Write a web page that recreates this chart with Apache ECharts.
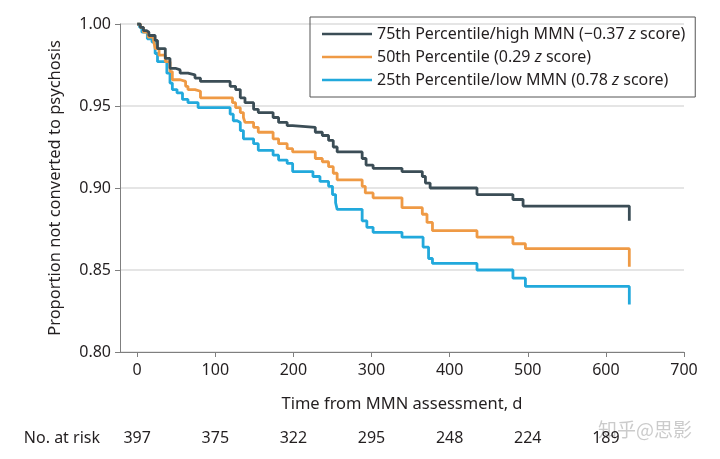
<!DOCTYPE html>
<html>
<head>
<meta charset="utf-8">
<script src="https://cdn.jsdelivr.net/npm/echarts@6/dist/echarts.min.js"></script>
<style>html,body{margin:0;padding:0;background:#fff}#c{width:720px;height:459px}</style>
</head>
<body>
<div id="c"></div>
<script>
// Kaplan-Meier step data: [day, proportion]
const highMMN = [[0,1.000],[4,0.998],[8,0.996],[12,0.995],[15,0.993],[23,0.990],[26,0.985],[36,0.979],[42,0.973],[49,0.972],[55,0.970],[65,0.969],[74,0.967],[81,0.965],[119,0.962],[126,0.960],[132,0.955],[138,0.952],[149,0.948],[155,0.946],[174,0.943],[181,0.940],[192,0.938],[199,0.937],[228,0.934],[237,0.932],[245,0.929],[251,0.925],[256,0.922],[288,0.918],[293,0.914],[302,0.912],[339,0.910],[365,0.907],[369,0.903],[375,0.900],[435,0.896],[481,0.893],[494,0.889],[630,0.880]];
const midMMN = [[0,1.000],[4,0.998],[8,0.995],[14,0.992],[21,0.990],[23,0.985],[28,0.981],[36,0.977],[42,0.971],[45,0.966],[55,0.965],[62,0.962],[65,0.960],[74,0.959],[81,0.955],[122,0.952],[126,0.949],[132,0.946],[136,0.943],[138,0.940],[149,0.937],[155,0.934],[174,0.930],[181,0.927],[192,0.924],[199,0.922],[228,0.918],[237,0.916],[245,0.913],[251,0.909],[256,0.905],[288,0.901],[292,0.897],[302,0.894],[339,0.888],[365,0.884],[371,0.879],[378,0.874],[435,0.870],[481,0.866],[497,0.863],[630,0.852]];
const lowMMN = [[0,1.000],[3,0.998],[6,0.995],[13,0.991],[19,0.989],[23,0.982],[26,0.977],[38,0.970],[42,0.964],[45,0.960],[51,0.958],[58,0.954],[65,0.952],[78,0.949],[119,0.945],[123,0.941],[128,0.940],[132,0.935],[136,0.930],[149,0.927],[155,0.923],[174,0.920],[181,0.917],[192,0.915],[199,0.910],[225,0.907],[234,0.904],[245,0.901],[250,0.896],[254,0.891],[256,0.887],[288,0.880],[294,0.876],[302,0.873],[339,0.870],[366,0.864],[373,0.857],[378,0.854],[435,0.850],[481,0.845],[497,0.840],[630,0.829]];
const seriesNames = ['75th Percentile/high MMN (−0.37 {i|z} score)', '50th Percentile (0.29 {i|z} score)', '25th Percentile/low MMN (0.78 {i|z} score)'];
const xTicks = [0,100,200,300,400,500,600,700];
const yTicks = [0.80,0.85,0.90,0.95,1.00];
const atRiskDays = [0,100,200,300,400,500,600];
const atRisk = [397,375,322,295,248,224,189];

const FONT = 'Noto Sans';
const TXT = '#231f20';
const FS = 16;
const colors = ['#3b4d56','#ef9a45','#22a9dc'];
const chart = echarts.init(document.getElementById('c'), null, {renderer:'canvas'});
const names = ['high','mid','low'];
chart.setOption({
  animation:false,
  textStyle:{fontFamily:FONT},
  grid:{left:120, right:36, top:24, bottom:107, containLabel:false},
  legend:{
    orient:'vertical', left:310, top:17,
    data:names,
    formatter:function(n){return seriesNames[names.indexOf(n)];},
    icon:'rect', itemWidth:50, itemHeight:2.5, itemGap:5,
    padding:[8,10,8,12],
    borderColor:'#555', borderWidth:1, borderRadius:0,
    textStyle:{fontFamily:FONT, fontSize:FS, color:TXT, lineHeight:18,
      rich:{i:{fontStyle:'italic', fontFamily:FONT, fontSize:FS, color:TXT}}}
  },
  xAxis:[{
    type:'value', min:-22, max:700,
    name:'Time from MMN assessment, d', nameLocation:'middle', nameGap:44,
    nameTextStyle:{fontSize:16.5, color:TXT, fontFamily:FONT},
    axisLine:{show:true, onZero:false, lineStyle:{color:'#7f7f7f', width:1}},
    axisTick:{show:true, customValues:xTicks, length:5, lineStyle:{color:'#7f7f7f'}},
    axisLabel:{customValues:xTicks, fontSize:FS, color:TXT, margin:10, fontFamily:FONT},
    splitLine:{show:false}
  },{
    type:'value', min:-22, max:700, position:'bottom', offset:86,
    name:'No. at risk', nameLocation:'start', nameGap:20,
    nameTextStyle:{fontSize:FS, color:TXT, fontFamily:FONT, verticalAlign:'middle'},
    axisLine:{show:false}, axisTick:{show:false}, splitLine:{show:false},
    axisLabel:{customValues:atRiskDays, fontSize:FS, color:TXT, margin:0, fontFamily:FONT, verticalAlign:'middle',
      formatter:function(v){const k=atRiskDays.indexOf(v);return k>=0?String(atRisk[k]):'';}}
  }],
  yAxis:{
    type:'value', min:0.8, max:1.0, interval:0.05,
    name:'Proportion not converted to psychosis', nameLocation:'middle', nameGap:56,
    nameTextStyle:{fontSize:16.5, color:TXT, fontFamily:FONT},
    axisLine:{show:true, onZero:false, lineStyle:{color:'#7f7f7f', width:1}},
    axisTick:{show:true, length:5, lineStyle:{color:'#7f7f7f'}},
    axisLabel:{fontSize:FS, color:TXT, margin:9, fontFamily:FONT, formatter:function(v){return v.toFixed(2);}},
    splitLine:{show:true, lineStyle:{color:'#dcdcdc', width:1.5}}
  },
  series:[
    {name:'high', type:'line', step:'end', data:highMMN, symbol:'none', color:colors[0], lineStyle:{width:2.8, color:colors[0]}, z:4},
    {name:'mid', type:'line', step:'end', data:midMMN, symbol:'none', color:colors[1], lineStyle:{width:2.8, color:colors[1]}, z:3},
    {name:'low', type:'line', step:'end', data:lowMMN, symbol:'none', color:colors[2], lineStyle:{width:2.8, color:colors[2]}, z:2}
  ],
  graphic:[{type:'text', left:598, top:420, silent:true,
    style:{text:'知乎@思影', fontSize:19, fontFamily:'Noto Sans CJK SC', fill:'rgba(140,140,140,0.45)'}}]
});
</script>
</body>
</html>
